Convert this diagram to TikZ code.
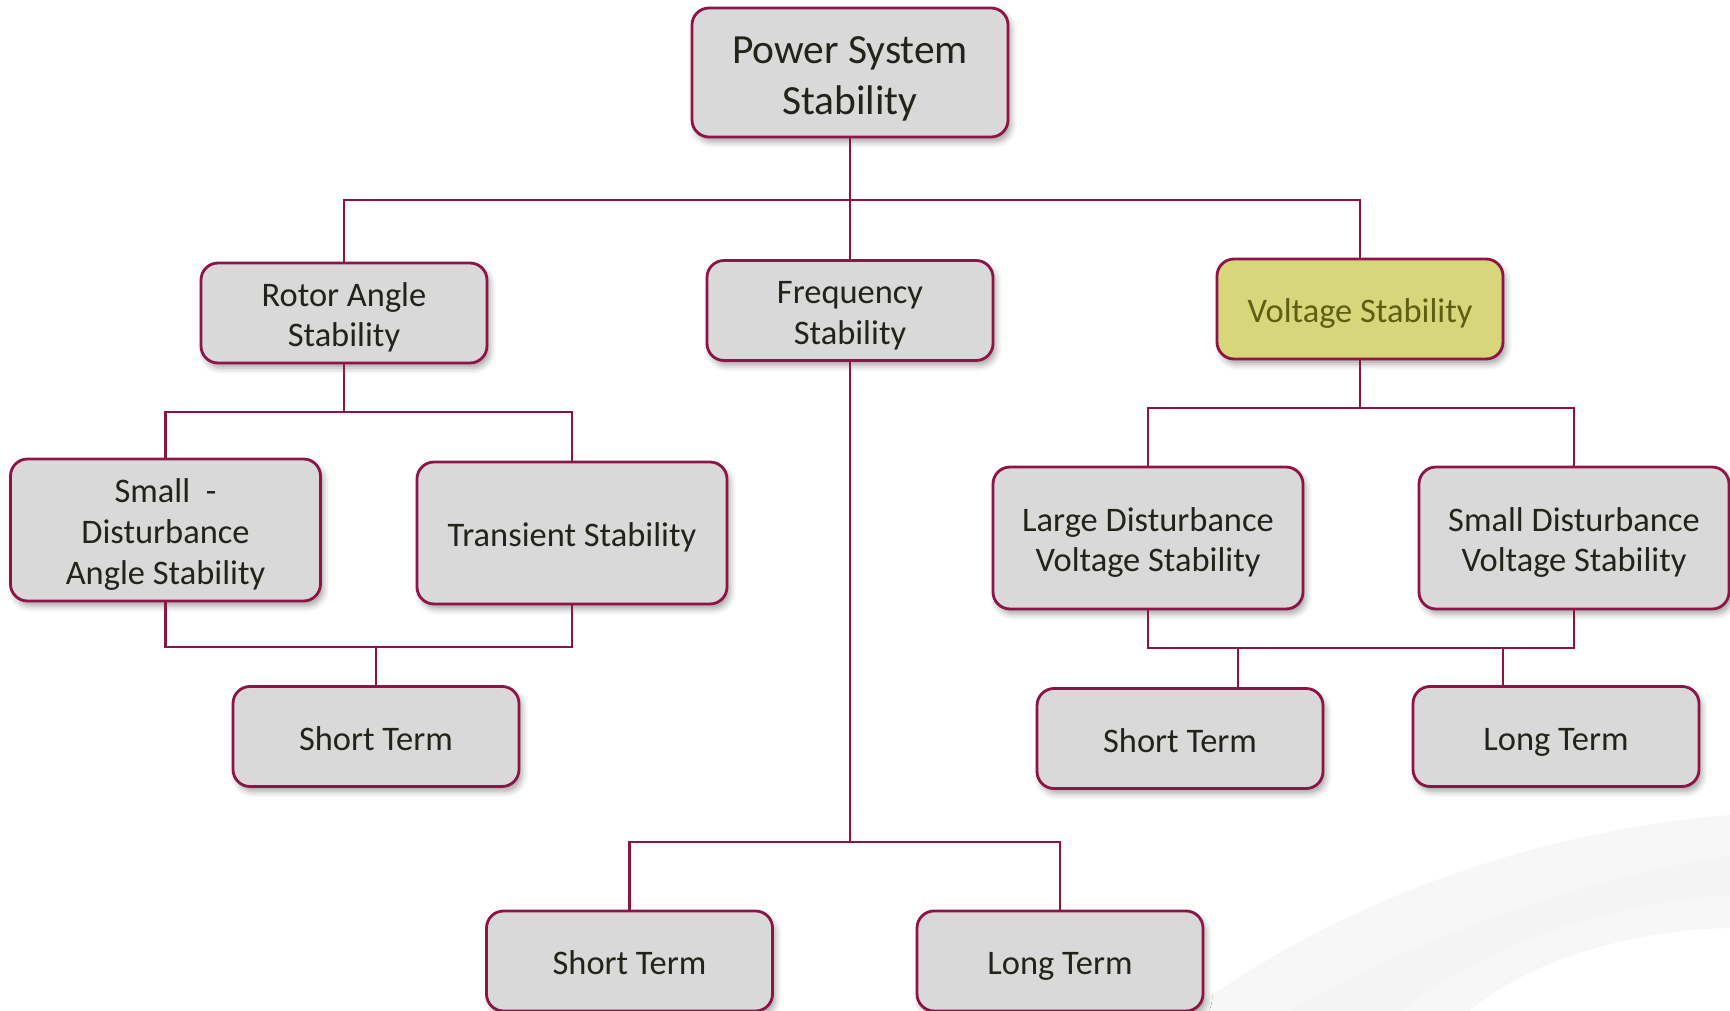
\documentclass[tikz,border=0pt]{standalone}
\usepackage{fontspec}
\setmainfont{Carlito}
\usepackage{xcolor}
\usepackage{tikz}
\usetikzlibrary{shadows.blur}

\definecolor{wine}{RGB}{140,20,70}
\definecolor{boxgray}{RGB}{217,217,217}
\definecolor{inktext}{RGB}{35,35,28}
\definecolor{voltfill}{RGB}{215,214,122}
\definecolor{volttext}{RGB}{95,95,20}
% invisible strut: #1 above the baseline, #2 below it
\newcommand{\blockstrut}[2]{\rule[-#2]{0pt}{\dimexpr#1+#2\relax}}
\newcommand{\bs}{\blockstrut{10.1pt}{0pt}}  % top of first line
\newcommand{\be}{\blockstrut{0pt}{2.4pt}}   % bottom of last line
\newcommand{\rs}{\blockstrut{12.1pt}{0pt}}
\newcommand{\re}{\blockstrut{0pt}{2.9pt}}

\begin{document}
\begin{tikzpicture}[
    block/.style={rectangle, draw=wine, line width=0.8pt, rounded corners=0.17cm, fill=boxgray, text=inktext, align=center,
        minimum width=2.86cm, minimum height=1.0cm, inner sep=0pt, font=\fontsize{9.8}{11.6}\selectfont,
        blur shadow={shadow xshift=0.03cm, shadow yshift=-0.05cm, shadow blur radius=0.06cm, shadow opacity=35}},
    rootblock/.style={block, minimum width=3.16cm, minimum height=1.29cm, font=\fontsize{11.8}{14.5}\selectfont},
    wide/.style={minimum width=3.1cm, minimum height=1.42cm},
    volt/.style={fill=voltfill, text=volttext},
    link/.style={draw=wine, line width=0.8pt}
]
    \useasboundingbox (0,0) rectangle (17.3,-10.11);

    % faint background swoosh
    \fill[gray!6] (11.9,-10.11) .. controls (13.4,-9.0) and (15.4,-8.3) .. (17.3,-8.15)
        -- (17.3,-9.28) .. controls (16.3,-9.3) and (15.3,-9.6) .. (14.7,-10.11) -- cycle;
    \fill[gray!9] (12.9,-10.11) .. controls (14.2,-9.35) and (15.8,-8.8) .. (17.3,-8.55)
        -- (17.3,-8.95) .. controls (15.9,-9.05) and (14.8,-9.5) .. (14.0,-10.11) -- cycle;

    % nodes
    \node[rootblock] (pss) at (8.50,-0.725) {\rs Power System\\Stability\re};

    \node[block] (rotor) at (3.44,-3.13) {\bs Rotor Angle\\Stability\be};
    \node[block] (freq) at (8.50,-3.105) {\bs Frequency\\Stability\be};
    \node[block, volt] (volt) at (13.60,-3.09) {\bs Voltage Stability\be};

    \node[block, wide] (sdas) at (1.655,-5.30) {\bs Small~~-\\Disturbance\\Angle Stability\be};
    \node[block, wide] (trans) at (5.72,-5.33) {\bs Transient Stability\be};
    \node[block] (stL) at (3.76,-7.365) {\bs Short Term\be};

    \node[block] (stF) at (6.295,-9.61) {\bs Short Term\be};
    \node[block] (ltF) at (10.60,-9.61) {\bs Long Term\be};

    \node[block, wide] (ldvs) at (11.48,-5.38) {\bs Large Disturbance\\Voltage Stability\be};
    \node[block, wide] (sdvs) at (15.74,-5.38) {\bs Small Disturbance\\Voltage Stability\be};
    \node[block] (stV) at (11.80,-7.385) {\bs Short Term\be};
    \node[block] (ltV) at (15.56,-7.365) {\bs Long Term\be};

    % bus points
    \coordinate (topbus) at (8.50,-2.00);
    \coordinate (rotorbus) at (3.44,-4.12);
    \coordinate (lowbusL) at (3.76,-6.47);
    \coordinate (freqbus) at (8.50,-8.42);
    \coordinate (voltbus) at (13.60,-4.08);
    \coordinate (lowbusV) at (12.38,-6.48);
    \coordinate (ltVtap) at (15.03,-6.48);

    % connectors
    \draw[link] (pss) -- (freq);
    \draw[link] (rotor.north) |- (topbus) -| (volt.north);

    \draw[link] (rotor) -- (rotorbus);
    \draw[link] (sdas.north) |- (rotorbus) -| (trans.north);
    \draw[link] (sdas.south) |- (lowbusL) -| (trans.south);
    \draw[link] (lowbusL) -- (stL);

    \draw[link] (freq) -- (freqbus);
    \draw[link] (stF.north) |- (freqbus) -| (ltF.north);

    \draw[link] (volt) -- (voltbus);
    \draw[link] (ldvs.north) |- (voltbus) -| (sdvs.north);
    \draw[link] (ldvs.south) |- (lowbusV) -| (sdvs.south);
    \draw[link] (lowbusV) -- (lowbusV |- stV.north);
    \draw[link] (ltVtap) -- (ltVtap |- ltV.north);
\end{tikzpicture}
\end{document}
